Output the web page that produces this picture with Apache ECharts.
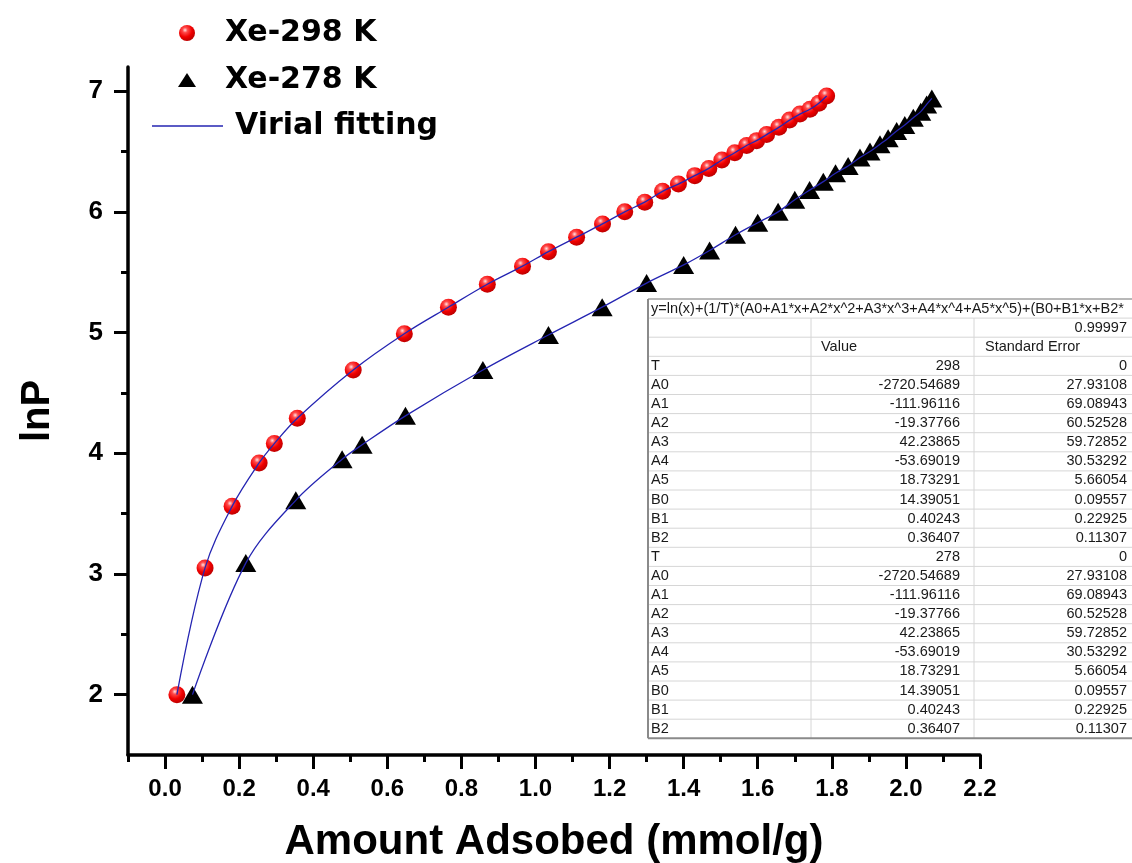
<!DOCTYPE html>
<html>
<head>
<meta charset="utf-8">
<script src="https://cdn.jsdelivr.net/npm/echarts@6/dist/echarts.min.js"></script>
<style>
html,body{margin:0;padding:0;background:#fff;}
#chart{width:1132px;height:863px;}
</style>
</head>
<body>
<div id="chart"></div>
<script>
// ---------- data ----------
const x298 = [0.032,0.108,0.181,0.254,0.295,0.357,0.508,0.646,0.765,0.870,0.965,1.035,1.111,1.181,1.241,1.295,1.343,1.386,1.430,1.468,1.503,1.538,1.570,1.597,1.624,1.657,1.686,1.714,1.741,1.765,1.786];
const y298 = [2.00,3.05,3.56,3.92,4.08,4.29,4.69,4.99,5.21,5.40,5.55,5.67,5.79,5.90,6.00,6.08,6.17,6.23,6.30,6.36,6.43,6.49,6.55,6.59,6.64,6.70,6.76,6.81,6.85,6.90,6.96];
const x278 = [0.074,0.218,0.353,0.478,0.532,0.649,0.858,1.035,1.180,1.300,1.400,1.470,1.540,1.600,1.655,1.700,1.740,1.777,1.810,1.844,1.876,1.903,1.930,1.952,1.975,1.997,2.020,2.040,2.056,2.070];
const y278 = [2.00,3.09,3.61,3.95,4.07,4.31,4.69,4.98,5.21,5.41,5.56,5.68,5.81,5.91,6.00,6.10,6.18,6.25,6.32,6.38,6.45,6.50,6.56,6.61,6.67,6.72,6.78,6.83,6.89,6.94];

const seriesNames = ['Xe-298 K','Xe-278 K','Virial fitting'];
const xTitle = 'Amount Adsobed (mmol/g)';
const yTitle = 'lnP';

const xMajorTicks = [0,0.2,0.4,0.6,0.8,1.0,1.2,1.4,1.6,1.8,2.0,2.2];
const xMinorTicks = [-0.1,0.1,0.3,0.5,0.7,0.9,1.1,1.3,1.5,1.7,1.9,2.1];
const yMajorTicks = [2,3,4,5,6,7];
const yMinorTicks = [2.5,3.5,4.5,5.5,6.5];

// fit report table
const fitEquation = 'y=ln(x)+(1/T)*(A0+A1*x+A2*x^2+A3*x^3+A4*x^4+A5*x^5)+(B0+B1*x+B2*';
const fitR2 = '0.99997';
const tableHeaders = ['Value','Standard Error'];
const paramNames = ['T','A0','A1','A2','A3','A4','A5','B0','B1','B2','T','A0','A1','A2','A3','A4','A5','B0','B1','B2'];
const paramValues = ['298','-2720.54689','-111.96116','-19.37766','42.23865','-53.69019','18.73291','14.39051','0.40243','0.36407',
                     '278','-2720.54689','-111.96116','-19.37766','42.23865','-53.69019','18.73291','14.39051','0.40243','0.36407'];
const paramErrors = ['0','27.93108','69.08943','60.52528','59.72852','30.53292','5.66054','0.09557','0.22925','0.11307',
                     '0','27.93108','69.08943','60.52528','59.72852','30.53292','5.66054','0.09557','0.22925','0.11307'];

// ---------- build ----------
const d298 = x298.map((x,i)=>[x,y298[i]]);
const d278 = x278.map((x,i)=>[x,y278[i]]);

const tX = 648, tY = 299, rowH = 19.1, c1 = 163, c2 = 326, tW = 500;
const nRows = 3 + paramNames.length;
const tH = nRows*rowH;
const tFont = '14.5px "Liberation Sans", Arial, sans-serif';
const tColor = '#1a1a1a';
const graphics = [];
graphics.push({type:'rect', z:100, shape:{x:tX,y:tY,width:tW,height:tH}, style:{fill:'#fff',stroke:null}});
for (let r=1;r<nRows;r++){
  graphics.push({type:'line', z:101, shape:{x1:tX,y1:tY+r*rowH,x2:tX+tW,y2:tY+r*rowH}, style:{stroke:'#d6d6d6',lineWidth:1}});
}
[c1,c2].forEach(c=>{
  graphics.push({type:'line', z:101, shape:{x1:tX+c,y1:tY+rowH,x2:tX+c,y2:tY+tH}, style:{stroke:'#d6d6d6',lineWidth:1}});
});
graphics.push({type:'line', z:102, shape:{x1:tX,y1:tY,x2:tX+tW,y2:tY}, style:{stroke:'#a0a0a0',lineWidth:1.5}});
graphics.push({type:'line', z:102, shape:{x1:tX,y1:tY,x2:tX,y2:tY+tH}, style:{stroke:'#8a8a8a',lineWidth:2}});
graphics.push({type:'line', z:102, shape:{x1:tX,y1:tY+tH,x2:tX+tW,y2:tY+tH}, style:{stroke:'#8a8a8a',lineWidth:2}});
function cellText(txt,x,y,align){
  graphics.push({type:'text', z:103, style:{text:txt,x:x,y:y,font:tFont,fill:tColor,align:align,verticalAlign:'middle'}});
}
cellText(fitEquation, tX+3, tY+rowH*0.5, 'left');
cellText(fitR2, tX+479, tY+rowH*1.5, 'right');
cellText(tableHeaders[0], tX+c1+10, tY+rowH*2.5, 'left');
cellText(tableHeaders[1], tX+c2+11, tY+rowH*2.5, 'left');
paramNames.forEach((n,i)=>{
  const cy = tY + rowH*(3.5+i);
  cellText(n, tX+3, cy, 'left');
  cellText(paramValues[i], tX+312, cy, 'right');
  cellText(paramErrors[i], tX+479, cy, 'right');
});

const sphere = {type:'radial', x:0.38, y:0.32, r:0.72, colorStops:[
  {offset:0,color:'#ffe2e2'},{offset:0.22,color:'#ff4a4a'},{offset:0.6,color:'#f00000'},{offset:1,color:'#b80000'}]};
const fitColor = '#2525b2';
const axisFont = '"Liberation Sans", Arial, sans-serif';
const legendText = {fontFamily:'"DejaVu Sans", sans-serif', fontWeight:'bold', fontSize:30, color:'#000'};

function xAxisBase(){
  return {type:'value', min:-0.1, max:2.2, position:'bottom', gridIndex:0, splitLine:{show:false}};
}
function yAxisBase(){
  return {type:'value', min:1.5, max:7.2, position:'left', gridIndex:0, splitLine:{show:false}};
}

const option = {
  animation:false,
  backgroundColor:'#fff',
  grid:{left:128, right:152, top:67, bottom:108, containLabel:false, outerBoundsMode:'none'},
  legend:[
    {data:[seriesNames[0]], left:179, top:18, padding:0, itemWidth:16, itemHeight:16,
     textStyle:Object.assign({padding:[0,0,0,25]},legendText), selectedMode:false},
    {data:[seriesNames[1]], left:178, top:65, padding:0, itemWidth:18, itemHeight:14,
     textStyle:Object.assign({padding:[0,0,0,24]},legendText), selectedMode:false},
    {data:[{name:seriesNames[2], icon:'rect'}], left:152, top:111, padding:0, itemWidth:71, itemHeight:1.5,
     textStyle:Object.assign({padding:[0,0,0,7]},legendText), selectedMode:false}
  ],
  xAxis:[
    Object.assign(xAxisBase(), {
      axisLine:{show:true, onZero:false, lineStyle:{color:'#000', width:3.5}},
      axisTick:{show:true, inside:false, length:14, customValues:xMajorTicks, lineStyle:{color:'#000', width:3}},
      axisLabel:{customValues:xMajorTicks, formatter:v=>v.toFixed(1), fontSize:24, fontWeight:'bold', color:'#000', fontFamily:axisFont, margin:22},
      name:xTitle, nameLocation:'middle', nameGap:66,
      nameTextStyle:{fontSize:42, fontWeight:'bold', color:'#000', fontFamily:axisFont}
    }),
    Object.assign(xAxisBase(), {
      axisLine:{show:false, onZero:false},
      axisTick:{show:true, inside:false, length:7, customValues:xMinorTicks, lineStyle:{color:'#000', width:3}},
      axisLabel:{show:false}
    })
  ],
  yAxis:[
    Object.assign(yAxisBase(), {
      axisLine:{show:true, onZero:false, lineStyle:{color:'#000', width:3.5}},
      axisTick:{show:true, inside:false, length:14, customValues:yMajorTicks, lineStyle:{color:'#000', width:3}},
      axisLabel:{customValues:yMajorTicks, formatter:v=>String(v), fontSize:26, fontWeight:'bold', color:'#000', fontFamily:axisFont, margin:25},
      name:yTitle, nameLocation:'middle', nameGap:70, nameRotate:90,
      nameTextStyle:{fontSize:40, fontWeight:'bold', color:'#000', fontFamily:axisFont}
    }),
    Object.assign(yAxisBase(), {
      axisLine:{show:false, onZero:false},
      axisTick:{show:true, inside:false, length:7, customValues:yMinorTicks, lineStyle:{color:'#000', width:3}},
      axisLabel:{show:false}
    })
  ],
  series:[
    {name:seriesNames[0], type:'scatter', data:d298, symbol:'circle', symbolSize:17, z:2,
     itemStyle:{color:sphere, opacity:1}},
    {name:seriesNames[1], type:'scatter', data:d278, symbol:'triangle', symbolSize:[21,18], z:2,
     itemStyle:{color:'#000', opacity:1}},
    {name:seriesNames[2], type:'line', data:d298, smooth:0.35, symbol:'none', showSymbol:false, z:5,
     lineStyle:{color:fitColor, width:1.3}, itemStyle:{color:fitColor}},
    {name:seriesNames[2], type:'line', data:d278, smooth:0.35, symbol:'none', showSymbol:false, z:5,
     lineStyle:{color:fitColor, width:1.3}, itemStyle:{color:fitColor}}
  ],
  graphic:graphics
};

const chart = echarts.init(document.getElementById('chart'), null, {renderer:'canvas'});
chart.setOption(option);
</script>
</body>
</html>
